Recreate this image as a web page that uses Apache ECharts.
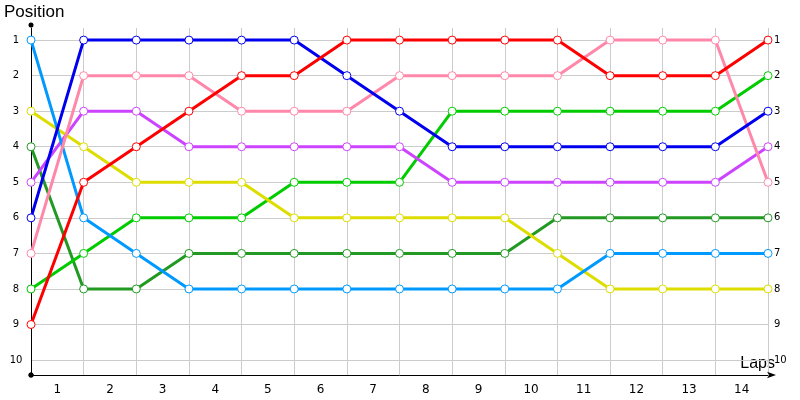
<!DOCTYPE html>
<html>
<head>
<meta charset="utf-8">
<script src="https://cdn.jsdelivr.net/npm/echarts@6/dist/echarts.min.js"></script>
<style>
  html, body { margin: 0; padding: 0; background: #fff; }
  #main { width: 800px; height: 400px; }
</style>
</head>
<body>
<div id="main"></div>
<script>
// laps are drawn on the grid lines, labels sit between them
let lapLabels = ['1', '2', '3', '4', '5', '6', '7', '8', '9', '10', '11', '12', '13', '14'];
let positionTicks = [1, 2, 3, 4, 5, 6, 7, 8, 9, 10];

let lightBlue = [1, 6, 7, 8, 8, 8, 8, 8, 8, 8, 8, 7, 7, 7, 7];
let blue      = [6, 1, 1, 1, 1, 1, 2, 3, 4, 4, 4, 4, 4, 4, 3];
let red       = [9, 5, 4, 3, 2, 2, 1, 1, 1, 1, 1, 2, 2, 2, 1];
let pink      = [7, 2, 2, 2, 3, 3, 3, 2, 2, 2, 2, 1, 1, 1, 5];
let purple    = [5, 3, 3, 4, 4, 4, 4, 4, 5, 5, 5, 5, 5, 5, 4];
let yellow    = [3, 4, 5, 5, 5, 6, 6, 6, 6, 6, 7, 8, 8, 8, 8];
let green     = [8, 7, 6, 6, 6, 5, 5, 5, 3, 3, 3, 3, 3, 3, 2];
let darkGreen = [4, 8, 8, 7, 7, 7, 7, 7, 7, 7, 6, 6, 6, 6, 6];

let drivers = [
    { data: darkGreen, color: '#229922' },
    { data: green,     color: '#00cc00' },
    { data: yellow,    color: '#dddd00' },
    { data: purple,    color: '#cc44ff' },
    { data: lightBlue, color: '#0099ff' },
    { data: pink,      color: '#ff88aa' },
    { data: blue,      color: '#0000ee' },
    { data: red,       color: '#ff0000' }
];

let font = 'DejaVu Sans';

function yAxisFor(pos) {
    let left = pos === 'left';
    return {
        type: 'value',
        position: pos,
        inverse: true,
        min: 0.66,
        max: 10.42,
        axisLine: left ? {
            show: true,
            lineStyle: { color: '#000', width: 1 },
            symbol: ['circle', 'circle'],
            symbolSize: [5, 5],
            symbolOffset: [0, 3]
        } : { show: false },
        axisTick: { show: false, customValues: positionTicks },
        axisLabel: {
            customValues: positionTicks,
            fontFamily: font,
            fontSize: 10,
            color: '#000',
            align: left ? 'center' : 'left',
            margin: left ? 15 : 6
        },
        splitLine: { show: left, lineStyle: { color: '#cccccc', width: 1 } }
    };
}

let chart = echarts.init(document.getElementById('main'));

chart.setOption({
    animation: false,
    grid: { left: 31, right: 32, top: 28, bottom: 25, containLabel: false },
    xAxis: {
        type: 'value',
        min: 0,
        max: lapLabels.length,
        interval: 1,
        axisLine: {
            show: true,
            lineStyle: { color: '#000', width: 1 },
            symbol: ['circle', 'arrow'],
            symbolSize: [5, 9],
            symbolOffset: [0, 8]
        },
        axisTick: { show: false },
        axisLabel: {
            customValues: lapLabels.map((l, i) => i + 0.5),
            formatter: v => lapLabels[Math.floor(v)],
            fontFamily: font,
            fontSize: 12,
            color: '#000',
            margin: 9
        },
        splitLine: { show: true, lineStyle: { color: '#cccccc', width: 1 } }
    },
    yAxis: [yAxisFor('left'), yAxisFor('right')],
    graphic: [
        { type: 'text', left: 4, top: 4, style: { text: 'Position', font: '17px "Liberation Sans"', fill: '#000' } },
        { type: 'text', right: 25, top: 356, style: { text: 'Laps', font: '16px "Liberation Sans"', fill: '#000' } }
    ],
    series: drivers.map(d => ({
        type: 'line',
        data: d.data.map((p, i) => [i, p]),
        symbol: 'circle',
        symbolSize: 8,
        itemStyle: { color: '#fff', borderColor: d.color, borderWidth: 1 },
        lineStyle: { color: d.color, width: 3 }
    }))
});
</script>
</body>
</html>
